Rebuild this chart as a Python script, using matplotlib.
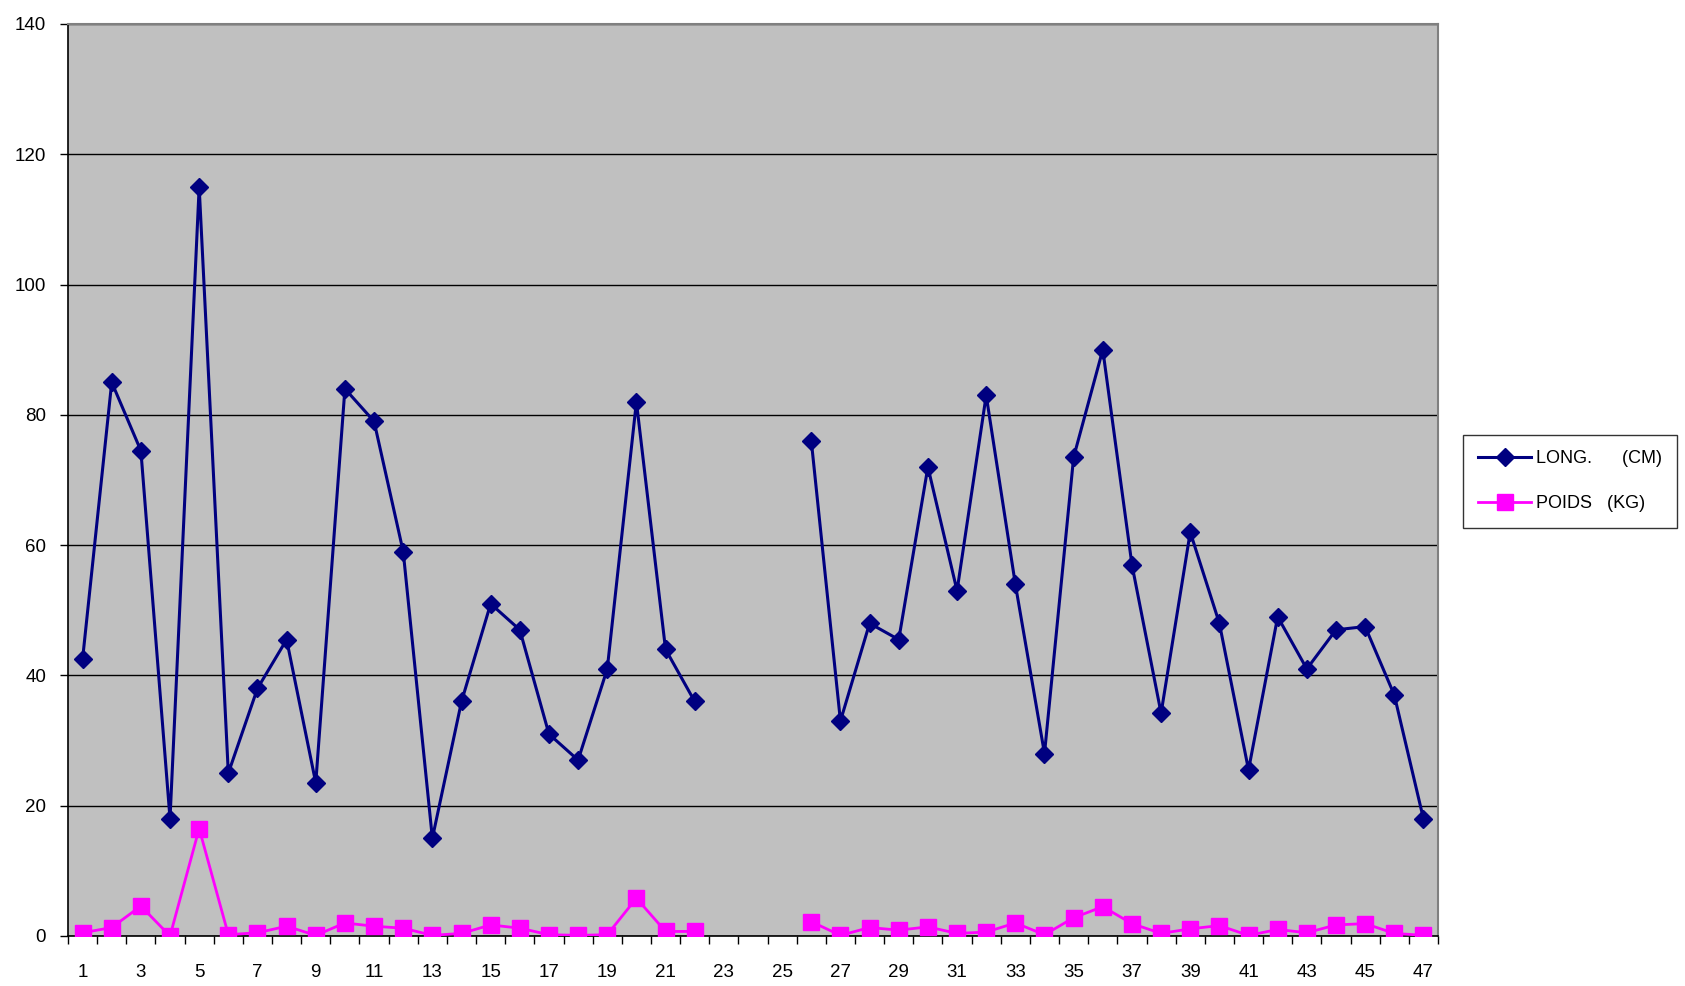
import numpy as np
import matplotlib
matplotlib.use("Agg")
import matplotlib.pyplot as plt
from matplotlib.lines import Line2D

plt.rcParams['font.family'] = ['Liberation Sans', 'DejaVu Sans']

categories = list(range(1, 48))
long_cm = [42.5, 85, 74.5, 18, 115, 25, 38, 45.5, 23.5, 84, 79, 59, 15, 36, 51, 47, 31, 27, 41, 82,
           44, 36, np.nan, np.nan, np.nan, 76, 33, 48, 45.5, 72, 53, 83, 54, 28, 73.5, 90, 57, 34.2,
           62, 48, 25.5, 49, 41, 47, 47.5, 37, 18]
poids_kg = [0.5, 1.3, 4.6, 0.0, 16.5, 0.2, 0.5, 1.5, 0.1, 2.0, 1.5, 1.2, 0.1, 0.4, 1.7, 1.2, 0.2, 0.1,
            0.2, 5.8, 0.7, 0.7, np.nan, np.nan, np.nan, 2.2, 0.1, 1.3, 0.9, 1.4, 0.4, 0.6, 2.0, 0.2,
            2.8, 4.5, 1.9, 0.4, 1.1, 1.6, 0.1, 1.0, 0.5, 1.7, 1.9, 0.4, 0.1]
xtick_labels = [str(c) for c in categories[::2]]
yticks = [0, 20, 40, 60, 80, 100, 120, 140]
labels = ["LONG.      (CM)", "POIDS   (KG)"]

fig = plt.figure(figsize=(16.85, 9.86), dpi=100)
ax = fig.add_axes([68/1685, 1-936/986, (1438-68)/1685, (936-24)/986])
ax.set_facecolor('#C0C0C0')

x = np.array(categories)
ax.plot(x, long_cm, color='#000080', lw=2.2, marker='D', ms=9, mfc='#000080', mec='#000080', zorder=3)
ax.plot(x, poids_kg, color='#FF00FF', lw=2.0, marker='s', ms=11, mfc='#FF00FF', mec='#FF00FF', zorder=3)

ax.set_xlim(0.5, 47.5)
ax.set_ylim(0, 140)
ax.set_yticks(yticks)
ax.set_yticklabels([str(v) for v in yticks])
ax.yaxis.grid(True, color='black', lw=1.0)
ax.set_axisbelow(True)

ax.set_xticks(categories[::2])
ax.set_xticklabels(xtick_labels)
ax.set_xticks(np.arange(0.5, 48, 1), minor=True)
ax.tick_params(axis='x', which='major', length=0, pad=20, labelsize=13.5)
ax.tick_params(axis='x', which='minor', length=5.8, width=1, direction='out', color='black')
ax.tick_params(axis='y', length=5.8, width=1, direction='out', pad=10, labelsize=13.5)

for s in ['top', 'right']:
    ax.spines[s].set_color('#808080')
    ax.spines[s].set_linewidth(1.5)
for s in ['left', 'bottom']:
    ax.spines[s].set_color('black')
    ax.spines[s].set_linewidth(1.2)

handles = [Line2D([], [], color='#000080', lw=2.2, marker='D', ms=9),
           Line2D([], [], color='#FF00FF', lw=2.0, marker='s', ms=11)]
leg = fig.legend(handles, labels, loc='upper left', bbox_to_anchor=(1463/1685, 1-435/986),
                 frameon=True, fancybox=False, edgecolor='black', facecolor='white',
                 fontsize=13, handlelength=2.9, labelspacing=1.55, borderpad=0.85,
                 handletextpad=0.3, borderaxespad=0)
leg.get_frame().set_linewidth(1.0)

fig.savefig('out.png', dpi=100, facecolor='white')
